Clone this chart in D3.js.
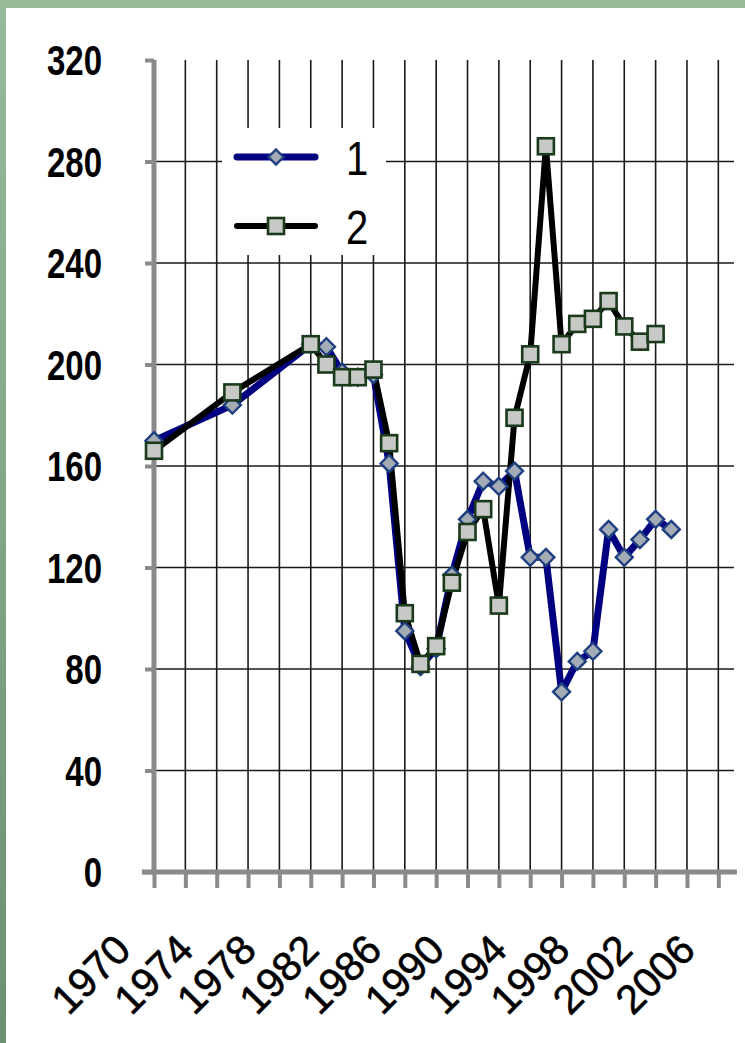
<!DOCTYPE html>
<html>
<head>
<meta charset="utf-8">
<script src="https://cdn.jsdelivr.net/npm/d3@7"></script>
<style>
  html, body { margin: 0; padding: 0; background: #8fb592; }
  svg { display: block; }
</style>
</head>
<body>
<svg id="chart" width="745" height="1043"></svg>
<script>
// ---- data ----
const seriesNames = ["1", "2"];
const years1 = [1970, 1975, 1980, 1981, 1982, 1983, 1984, 1985, 1986, 1987, 1988, 1989, 1990, 1991, 1992, 1993, 1994, 1995, 1996, 1997, 1998, 1999, 2000, 2001, 2002, 2003];
const values1 = [170, 184, 208, 207, 197, 195, 196, 161, 95, 81, 88, 117, 139, 154, 152, 158, 124, 124, 71, 83, 87, 135, 124, 131, 139, 135];
const years2 = [1970, 1975, 1980, 1981, 1982, 1983, 1984, 1985, 1986, 1987, 1988, 1989, 1990, 1991, 1992, 1993, 1994, 1995, 1996, 1997, 1998, 1999, 2000, 2001, 2002];
const values2 = [166, 189, 208, 200, 195, 195, 198, 169, 102, 82, 89, 114, 134, 143, 105, 179, 204, 286, 208, 216, 218, 225, 215, 209, 212];
const yTicks = [0, 40, 80, 120, 160, 200, 240, 280, 320];
const xLabelYears = [1970, 1974, 1978, 1982, 1986, 1990, 1994, 1998, 2002, 2006];
const xTickYears = d3.range(1970, 2007, 2);

const svg = d3.select("#chart");
const FONT = "Liberation Sans, Arial, sans-serif";

// background: green slide frame + white panel
const defs = svg.append("defs");
const g1 = defs.append("linearGradient").attr("id", "bg").attr("x1", 0).attr("y1", 0).attr("x2", 0).attr("y2", 1);
g1.append("stop").attr("offset", "0%").attr("stop-color", "#97bb98");
g1.append("stop").attr("offset", "100%").attr("stop-color", "#6d8f72");
svg.append("rect").attr("width", 745).attr("height", 1043).attr("fill", "url(#bg)");
svg.append("rect").attr("x", 6).attr("y", 8).attr("width", 739).attr("height", 1035).attr("fill", "#ffffff");

// scales
const x = d3.scaleLinear().domain([1970, 2007]).range([154, 734]);
const y = d3.scaleLinear().domain([0, 320]).range([872, 60]);

// gridlines
const grid = svg.append("g");
grid.selectAll("line.h").data(yTicks.filter(v => v > 0 && v < 320)).join("line")
  .attr("x1", x(1970)).attr("x2", x(2007))
  .attr("y1", d => y(d)).attr("y2", d => y(d))
  .attr("stroke", "#1a1a1a").attr("stroke-width", 1.6);
grid.selectAll("line.v").data(xTickYears.filter(v => v > 1970)).join("line")
  .attr("x1", d => x(d)).attr("x2", d => x(d))
  .attr("y1", y(320)).attr("y2", y(0))
  .attr("stroke", "#1a1a1a").attr("stroke-width", 1.6);

// axes (gray, thick)
const axisColor = "#8a8a8a";
const yAxis = d3.axisLeft(y).tickValues(yTicks).tickSize(9).tickPadding(0).tickFormat("");
const yg = svg.append("g").attr("transform", `translate(${x(1970)},0)`).call(yAxis);
yg.select(".domain").attr("stroke", axisColor).attr("stroke-width", 5).attr("d", `M0,${y(320)}V${y(0) + 2}`);
yg.selectAll(".tick line").attr("stroke", axisColor).attr("stroke-width", 4);

const xAxis = d3.axisBottom(x).tickValues(xTickYears).tickSize(16).tickFormat("");
const xg = svg.append("g").attr("transform", `translate(0,${y(0)})`).call(xAxis);
xg.select(".domain").attr("stroke", axisColor).attr("stroke-width", 5).attr("d", `M${x(1970) - 12},0H${x(2007) + 3}`);
xg.selectAll(".tick line").attr("stroke", axisColor).attr("stroke-width", 4);

// y labels (vertically stretched like the reference)
svg.append("g").selectAll("text").data(yTicks).join("text")
  .attr("transform", d => `translate(102,${y(d)}) scale(1,1.28)`)
  .attr("dy", "0.36em")
  .attr("text-anchor", "end")
  .attr("font-family", FONT)
  .attr("font-weight", "bold")
  .attr("font-size", 33)
  .attr("fill", "#000")
  .text(d => d);

// x labels, rotated
svg.append("g").selectAll("text").data(xLabelYears).join("text")
  .attr("transform", d => `translate(${x(d) - 21},${952}) rotate(-45)`)
  .attr("text-anchor", "end")
  .attr("font-family", FONT)
  .attr("font-size", 41)
  .attr("stroke", "#000").attr("stroke-width", 0.6)
  .attr("fill", "#000")
  .text(d => d);

// lines
const line = d3.line().x(d => x(d[0])).y(d => y(d[1]));
const pts1 = years1.map((yr, i) => [yr, values1[i]]);
const pts2 = years2.map((yr, i) => [yr, values2[i]]);

svg.append("path").datum(pts1).attr("d", line)
  .attr("fill", "none").attr("stroke", "#000080").attr("stroke-width", 7).attr("stroke-linejoin", "round");
svg.append("path").datum(pts2).attr("d", line)
  .attr("fill", "none").attr("stroke", "#000000").attr("stroke-width", 6).attr("stroke-linejoin", "round");

// markers
const dHalf = 8.5;
const diamondPath = `M0,${-dHalf}L${dHalf},0L0,${dHalf}L${-dHalf},0Z`;
svg.append("g").selectAll("path").data(pts1).join("path")
  .attr("d", diamondPath)
  .attr("transform", d => `translate(${x(d[0])},${y(d[1])})`)
  .attr("fill", "#a3abb5").attr("stroke", "#1f3f80").attr("stroke-width", 2.4);

const sq = 16;
svg.append("g").selectAll("rect").data(pts2).join("rect")
  .attr("x", d => x(d[0]) - sq / 2).attr("y", d => y(d[1]) - sq / 2)
  .attr("width", sq).attr("height", sq)
  .attr("fill", "#c6c9c6").attr("stroke", "#1b3a1b").attr("stroke-width", 2.6);

// legend
const lg = svg.append("g");
lg.append("rect").attr("x", 222).attr("y", 128).attr("width", 164).attr("height", 127).attr("fill", "#ffffff");
const legendRows = [
  { name: seriesNames[0], y: 157, color: "#000080", w: 7, marker: "diamond" },
  { name: seriesNames[1], y: 226, color: "#000000", w: 6, marker: "square" }
];
legendRows.forEach(r => {
  lg.append("line").attr("x1", 237).attr("x2", 315).attr("y1", r.y).attr("y2", r.y)
    .attr("stroke", r.color).attr("stroke-width", r.w).attr("stroke-linecap", "round");
  if (r.marker === "diamond") {
    lg.append("path").attr("d", `M0,-7.5L7.5,0L0,7.5L-7.5,0Z`).attr("transform", `translate(276,${r.y})`)
      .attr("fill", "#a3abb5").attr("stroke", "#1f3f80").attr("stroke-width", 2.4);
  } else {
    lg.append("rect").attr("x", 276 - 8).attr("y", r.y - 8).attr("width", 16).attr("height", 16)
      .attr("fill", "#c6c9c6").attr("stroke", "#1b3a1b").attr("stroke-width", 2.6);
  }
  lg.append("text").attr("transform", `translate(346,${r.y}) scale(1,1.22)`).attr("dy", "0.36em")
    .attr("font-family", FONT).attr("font-size", 40).attr("fill", "#000")
    .text(r.name);
});
</script>
</body>
</html>
